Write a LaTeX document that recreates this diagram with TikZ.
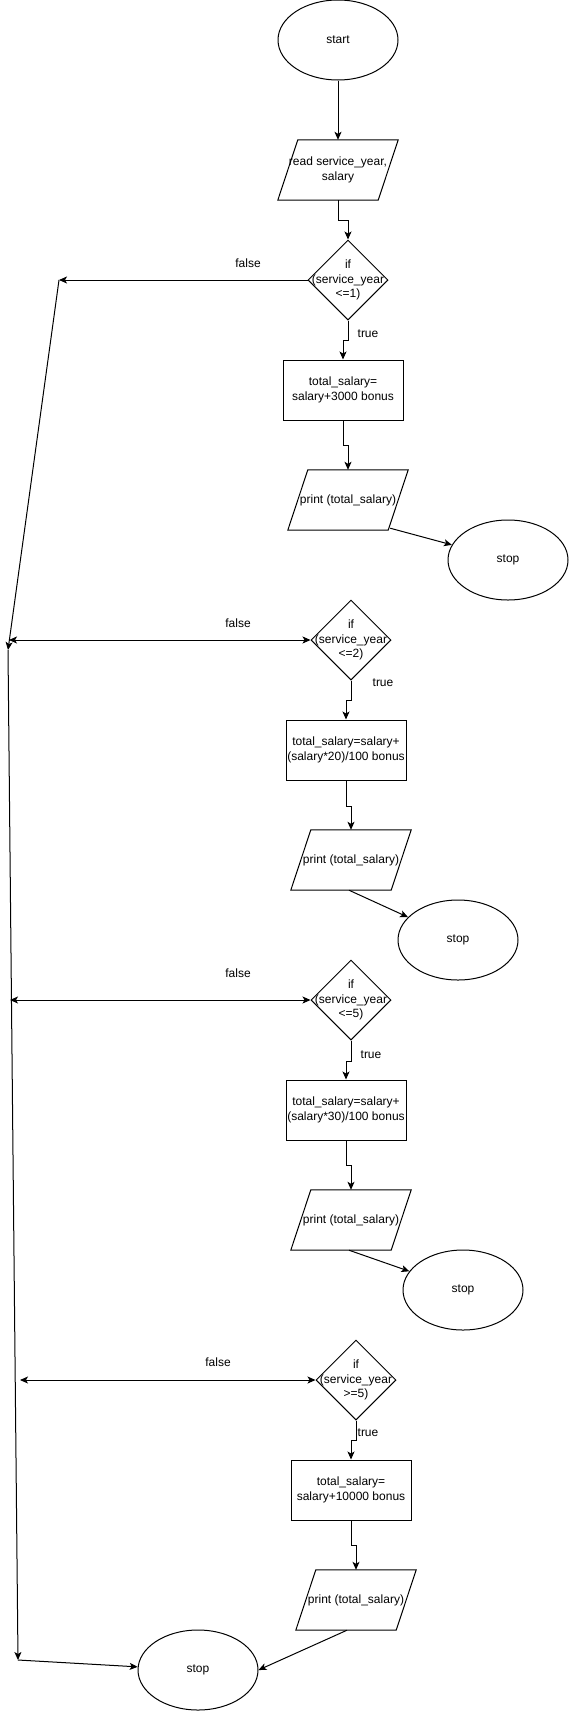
\documentclass[tikz,border=0pt]{standalone}
\usepackage{fontspec}
\setmainfont{Liberation Sans}
\usetikzlibrary{shapes.geometric,arrows.meta}
\newcommand\drawpara[1]{\draw[shapeline] ([xshift=20pt]#1.north west) -- (#1.north east) -- ([xshift=-20pt]#1.south east) -- (#1.south west) -- cycle;}
\begin{document}
\begin{tikzpicture}[x=1pt,y=-1pt,
  font=\fontsize{12}{14.5}\selectfont,
  every node/.style={inner sep=0pt, align=center},
  term/.style={ellipse, draw, line width=1pt, minimum width=120pt, minimum height=80pt},
  proc/.style={rectangle, draw, line width=1pt, minimum width=120pt, minimum height=60pt},
  io/.style={rectangle, minimum width=120pt, minimum height=60pt},
  dec/.style={diamond, draw, line width=1pt, minimum width=80pt, minimum height=80pt},
  shapeline/.style={line width=1pt},
  tip/.tip={Stealth[length=8pt,width=7pt,inset=2pt]},
  flow/.style={line width=1pt, -tip},
  biflow/.style={line width=1pt, tip-tip},
  lbl/.style={}]
\useasboundingbox (0,0) rectangle (569,1711);

% nodes
\node[term] (start) at (338,40) {start};
\node[io] (read) at (338,170) {read service\_year,\\salary};
\drawpara{read}
\node[dec, label={[align=center]center:if\\(service\_year\\<=1)}] (d1) at (348,280) {};
\node[proc] (r1) at (343,390) {total\_salary=\\salary+3000 bonus};
\node[io] (p1) at (348,500) {print (total\_salary)};
\drawpara{p1}
\node[term] (s1) at (508,560) {stop};

\node[dec, label={[align=center]center:if\\(service\_year\\<=2)}] (d2) at (351,640) {};
\node[proc] (r2) at (346,750) {total\_salary=salary+\\(salary*20)/100 bonus};
\node[io] (p2) at (351,860) {print (total\_salary)};
\drawpara{p2}
\node[term] (s2) at (458,940) {stop};

\node[dec, label={[align=center]center:if\\(service\_year\\<=5)}] (d3) at (351,1000) {};
\node[proc] (r3) at (346,1110) {total\_salary=salary+\\(salary*30)/100 bonus};
\node[io] (p3) at (351,1220) {print (total\_salary)};
\drawpara{p3}
\node[term] (s3) at (463,1290) {stop};

\node[dec, label={[align=center]center:if\\(service\_year\\>=5)}] (d4) at (356,1380) {};
\node[proc] (r4) at (351,1490) {total\_salary=\\salary+10000 bonus};
\node[io] (p4) at (356,1600) {print (total\_salary)};
\drawpara{p4}
\node[term] (sf) at (198,1670) {stop};

% labels
\node[lbl] (f1) at (248,263) {false};
\node[lbl] (t1) at (368,334) {true};
\node[lbl] (f2) at (238,623) {false};
\node[lbl] (t2) at (383,683) {true};
\node[lbl] (f3) at (238,973) {false};
\node[lbl] (t3) at (371,1055) {true};
\node[lbl] (f4) at (218,1362) {false};
\node[lbl] (t4) at (368,1433) {true};

% coordinates on the left
\coordinate (fa1) at (59,280);
\coordinate (la) at (8,650);
\coordinate (lb) at (18,1660);
\coordinate (e2) at (9,640);
\coordinate (e3) at (10,1000);
\coordinate (e4) at (20,1380);

% main flow
\draw[flow] (start) -- (read);
\draw[flow] (read.south) -- ++(0,20) -| (d1.north);
\draw[flow] (d1.south) -- ++(0,20) -| (r1.north);
\draw[flow] (r1.south) -- ++(0,25) -| (p1.north);
\draw[flow] ([xshift=-18pt,yshift=2pt]p1.south east) -- (s1);

\draw[flow] (d2.south) -- ++(0,20) -| (r2.north);
\draw[flow] (r2.south) -- ++(0,26) -| (p2.north);
\draw[flow] ([xshift=-2pt]p2.south) -- (s2);

\draw[flow] (d3.south) -- ++(0,21) -| (r3.north);
\draw[flow] (r3.south) -- ++(0,25) -| (p3.north);
\draw[flow] ([xshift=-2pt]p3.south) -- (s3);

\draw[flow] (d4.south) -- ++(0,20) -| (r4.north);
\draw[flow] (r4.south) -- ++(0,25) -| (p4.north);
\draw[flow] ([xshift=-9pt]p4.south) -- (sf.east);

% false branches
\draw[flow] (d1.west) -- (fa1);
\draw[flow] (fa1) -- (la);
\draw[flow] (la) -- (lb);
\draw[flow] (lb) -- (sf.177);
\draw[biflow] (e2) -- (d2.west);
\draw[biflow] (e3) -- (d3.west);
\draw[biflow] (e4) -- (d4.west);
\end{tikzpicture}
\end{document}
